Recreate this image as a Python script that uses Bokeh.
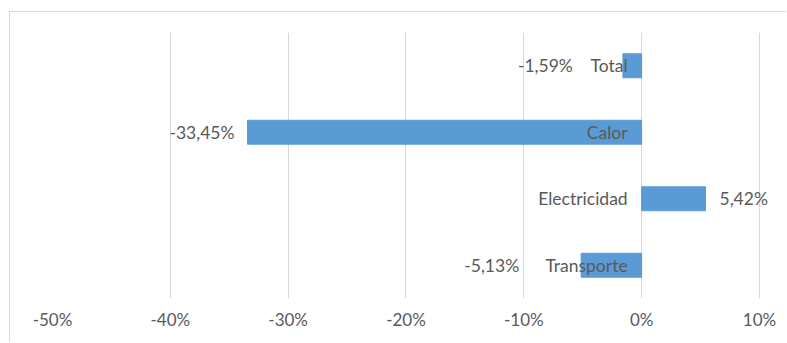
from bokeh.plotting import figure
from bokeh.models import FactorRange, FixedTicker, PrintfTickFormatter, ColumnDataSource
from bokeh.core.properties import value
from bokeh.embed import file_html
from bokeh.resources import INLINE

# ---- data ----
categories = ["Total", "Calor", "Electricidad", "Transporte"]
values = [-1.59, -33.45, 5.42, -5.13]
tick_values = [-50, -40, -30, -20, -10, 0, 10]

# ---- styling ----
label_dx = [-50, -13, 14, -62]   # pixel nudges for value labels
FONT = "Lato"
FS = "17.5px"
TXT = "#595959"
BAR = "#5B9BD5"

value_labels = [("%.2f" % v).replace(".", ",") + "%" for v in values]
aligns = ["left" if v >= 0 else "right" for v in values]

src = ColumnDataSource(dict(cat=categories, val=values, lab=value_labels,
                            dx=label_dx, align=aligns, zero=[0] * len(values)))

# frame spans to the right page edge so the outside labels are not clipped;
# the 10% gridline stays where the reference puts it
p = figure(width=777, height=331, output_backend="svg", toolbar_location=None,
           y_range=FactorRange(factors=categories[::-1]), x_range=(-50, 12.38),
           min_border_left=42, min_border_right=0, min_border_top=20, min_border_bottom=45,
           outline_line_color=None,
           styles={"border-left": "1px solid #d9d9d9", "border-top": "1px solid #d9d9d9"},
           margin=(11, 0, 0, 9))

p.hbar(y="cat", left=0, right="val", height=0.36, color=BAR, source=src)

# category labels next to the zero line
p.text(x="zero", y="cat", text="cat", x_offset=-14, text_align="right", text_baseline="middle",
       text_font=value(FONT), text_font_size=FS, text_color=TXT, source=src)
# value labels
p.text(x="val", y="cat", text="lab", x_offset="dx", text_align="align", text_baseline="middle",
       text_font=value(FONT), text_font_size=FS, text_color=TXT, source=src)

p.yaxis.visible = False
p.ygrid.visible = False
p.xgrid.grid_line_color = "#d9d9d9"
p.xgrid.ticker = FixedTicker(ticks=tick_values)
p.xaxis.ticker = FixedTicker(ticks=tick_values)
p.xaxis.formatter = PrintfTickFormatter(format="%d%%")
p.xaxis.axis_line_color = None
p.xaxis.major_tick_line_color = None
p.xaxis.minor_tick_line_color = None
p.xaxis.major_label_standoff = 4
p.xaxis.major_label_text_font = FONT
p.xaxis.major_label_text_font_size = "17px"
p.xaxis.major_label_text_color = TXT

open("out.html", "w").write(file_html(p, INLINE))
